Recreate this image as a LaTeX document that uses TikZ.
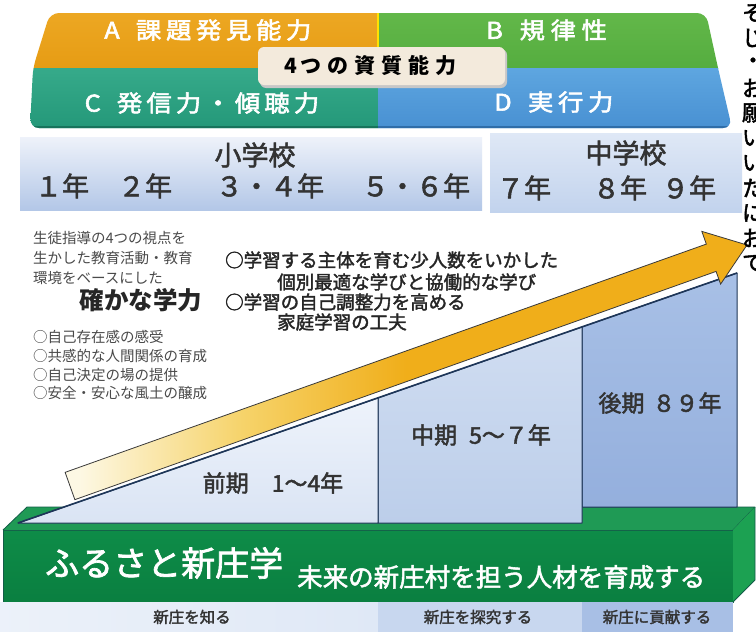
\documentclass[tikz,border=0pt]{standalone}
\usepackage{fontspec}
\setmainfont{Noto Sans CJK JP}
\newfontfamily\widefont[FakeStretch=1.1,FakeBold=2.5]{Noto Sans CJK JP}
\newfontfamily\medfont[FakeBold=2]{Noto Sans CJK JP}
\usetikzlibrary{calc}
\definecolor{orangeT}{HTML}{EEAA26}
\definecolor{orangeB}{HTML}{E69C14}
\definecolor{greenT}{HTML}{66BA4C}
\definecolor{greenB}{HTML}{55AD3F}
\definecolor{tealT}{HTML}{36AA8A}
\definecolor{tealB}{HTML}{249879}
\definecolor{tealE}{HTML}{17745C}
\definecolor{blueT}{HTML}{5EA6E0}
\definecolor{blueB}{HTML}{4890D2}
\definecolor{blueE}{HTML}{2F6DA8}
\definecolor{beige}{HTML}{F3EADC}
\definecolor{schT}{HTML}{EEF2FA}
\definecolor{schB}{HTML}{B3C7E7}
\definecolor{jhsT}{HTML}{DFE8F6}
\definecolor{jhsB}{HTML}{C2D3ED}
\definecolor{txtgray}{HTML}{333333}
\definecolor{txtgray2}{HTML}{4A4A4A}
\definecolor{preT}{HTML}{EEF3FB}
\definecolor{preB}{HTML}{DAE4F4}
\definecolor{midT}{HTML}{D0DDF1}
\definecolor{midB}{HTML}{BCCEEA}
\definecolor{lateT}{HTML}{A8C0E6}
\definecolor{lateB}{HTML}{94AFDD}
\definecolor{blockedge}{HTML}{1E3658}
\definecolor{gFront}{HTML}{0E8C48}
\definecolor{gFrontB}{HTML}{0A7F40}
\definecolor{gTop}{HTML}{1F9A55}
\definecolor{gSide}{HTML}{1CA152}
\definecolor{gEdge}{HTML}{135C48}
\definecolor{st1}{HTML}{DFE8F6}
\definecolor{st2}{HTML}{C8D7EF}
\definecolor{st3}{HTML}{A8BFE5}
\definecolor{arcream}{HTML}{FDF8E4}
\definecolor{armid}{HTML}{F6D36A}
\definecolor{argold}{HTML}{F0AE1A}
\definecolor{arline}{HTML}{3A3A3A}
\pgfdeclarehorizontalshading{arrowshade}{100bp}{color(0bp)=(arcream); color(26bp)=(arcream); color(38bp)=(armid); color(50bp)=(argold); color(100bp)=(argold)}
\makeatletter
\newcommand\spc[2]{\@tfor\spcch:=#2\do{\makebox[#1]{\spcch}}}
\makeatother
\newcommand\setfs[1]{\fontsize{#1pt}{#1pt}\selectfont}
\tikzset{
  bannertxt/.style={text=white, inner sep=0pt, font=\widefont\setfs{23}},
  yeartxt/.style={text=txtgray, inner sep=0pt, font=\medfont\setfs{27}},
  lefttxt/.style={text=txtgray2, inner sep=0pt, anchor=west, font=\setfs{14.5}},
  midtxt/.style={text=black!85, inner sep=0pt, anchor=west, font=\medfont\setfs{18.5}},
  blocktxt/.style={text=txtgray, inner sep=0pt, font=\medfont\setfs{23}},
  striptxt/.style={text=txtgray, inner sep=0pt, font=\medfont\setfs{15.5}},
  blockline/.style={draw=blockedge, line width=1pt, line join=round},
  gline/.style={draw=gEdge, line width=0.8pt, line join=round},
  edgechar/.style={text=black, inner sep=0pt, font=\medfont\setfs{22}},
}
\begin{document}
\begin{tikzpicture}[x=1pt,y=-1pt]
\useasboundingbox (0,0) rectangle (756,632);
\fill[white] (0,0) rectangle (756,632);

% ---------- banner ----------
\begin{scope}
  \clip[rounded corners=9pt] (50,13) -- (706,13) -- (718,68) -- (732,128) -- (30,128) -- (33,68) -- cycle;
  \shade[top color=orangeT, bottom color=orangeB] (0,0) rectangle (378,68);
  \shade[top color=greenT, bottom color=greenB] (378,0) rectangle (756,68);
  \shade[top color=tealT, bottom color=tealB] (0,68) rectangle (378,129);
  \shade[top color=blueT, bottom color=blueB] (378,68) rectangle (756,129);
  \fill[tealE] (0,125.5) rectangle (378,129);
  \fill[blueE] (378,125.5) rectangle (756,129);
  \draw[yellow!85!orange, line width=1.2pt] (378,0) -- (378,68);
\end{scope}
\fill[black!22, rounded corners=6pt] (260,49) rectangle (507,88);
\node[name=qualbox, fill=beige, rounded corners=6pt, minimum width=247pt, minimum height=38pt, inner sep=0pt] at (381.5,66) {};
\node[name=qualtxt, inner sep=0pt, text=black, font=\bfseries\setfs{21}] at (372,66) {4\spc{27pt}{つの資質能力}};
\node[name=labA, bannertxt] at (209,30) {A\hspace{14pt}\spc{30pt}{課題発見能力}};
\node[name=labB, bannertxt] at (548,30) {B\hspace{14pt}\spc{31pt}{規律性}};
\node[name=labC, bannertxt] at (203,103) {C\hspace{14pt}\spc{29.5pt}{発信力・傾聴力}};
\node[name=labD, bannertxt] at (555,102) {D\hspace{14pt}\spc{30pt}{実行力}};

% ---------- school bars ----------
\shade[top color=schT, bottom color=schB] (20,137) rectangle (482,210);
\shade[top color=jhsT, bottom color=jhsB] (490,133) rectangle (742,212);
\node[name=elem, yeartxt] at (255,155) {小学校};
\node[name=y1, yeartxt] at (62,186) {１年};
\node[name=y2, yeartxt] at (145,186) {２年};
\node[name=y34, yeartxt] at (270,186) {３・４年};
\node[name=y56, yeartxt] at (416,186) {５・６年};
\node[name=jhs, yeartxt] at (626,153) {中学校};
\node[name=y7, yeartxt] at (524,188) {７年};
\node[name=y8, yeartxt] at (620,188) {８年};
\node[name=y9, yeartxt] at (689,188) {９年};

% ---------- left text ----------
\node[name=l1, lefttxt] at (33,238) {生徒指導の4つの視点を};
\node[name=l2, lefttxt] at (33,258) {生かした教育活動・教育};
\node[name=l3, lefttxt] at (33,278) {環境をベースにした};
\node[name=l4, inner sep=0pt, text=black!85, font=\bfseries\setfs{24.5}] at (141,300) {確かな学力};
\node[name=l5, lefttxt] at (33,337) {○自己存在感の感受};
\node[name=l6, lefttxt] at (33,356) {○共感的な人間関係の育成};
\node[name=l7, lefttxt] at (33,375) {○自己決定の場の提供};
\node[name=l8, lefttxt] at (33,393) {○安全・安心な風土の醸成};

% ---------- middle text ----------
\node[name=m1, midtxt] at (225,260) {○学習する主体を育む少人数をいかした};
\node[name=m2, midtxt] at (277,282) {個別最適な学びと協働的な学び};
\node[name=m3, midtxt] at (225,302) {○学習の自己調整力を高める};
\node[name=m4, midtxt] at (277,322) {家庭学習の工夫};

% ---------- green base box ----------
\shade[top color=gFront, bottom color=gFrontB, gline] (3,530) rectangle (733,602);
\fill[gTop] (3,530) -- (27,507) -- (755,507) -- (733,530) -- cycle;
\draw[gline] (3,530) -- (27,507) -- (755,507) -- (733,530);
\fill[gSide] (733,530) -- (755,507) -- (755,580) -- (733,602) -- cycle;
\draw[gline] (755,507) -- (755,580) -- (733,602);
\node[name=furu, inner sep=0pt, text=white, anchor=west, font=\medfont\setfs{34}] at (45,563) {ふるさと新庄学};
\node[name=mirai, inner sep=0pt, text=white, anchor=west, font=\medfont\setfs{25.5}] at (297,577) {未来の新庄村を担う人材を育成する};

% ---------- staircase ----------
\coordinate (sA) at (18,523);
\coordinate (s1) at (378,398);
\coordinate (s2) at (582,327);
\coordinate (sT) at (737,273);
\shade[top color=lateT, bottom color=lateB, blockline] (s2) -- (sT) -- (737,507) -- (582,507) -- cycle;
\shade[top color=midT, bottom color=midB, blockline] (s1) -- (s2) -- (582,523) -- (378,523) -- cycle;
\shade[top color=preT, bottom color=preB, blockline] (sA) -- (s1) -- (378,523) -- cycle;
\draw[blockedge, line width=1.6pt] (sA) -- (sT);
\node[name=zenki, blocktxt] at (273,483) {前期　1～4年};
\node[name=chuki, blocktxt] at (481,435) {中期\hspace{12pt}5～７年};
\node[name=koki, blocktxt] at (660,403) {後期\hspace{8pt}８９年};

% ---------- bottom strip ----------
\shade[left color=st1!60!white, right color=st1] (0,602) rectangle (378,632);
\fill[st2] (378,602) rectangle (582,632);
\fill[st3] (582,602) rectangle (733,632);
\node[name=b1, striptxt] at (192,617) {新庄を知る};
\node[name=b2, striptxt] at (478,617) {新庄を探究する};
\node[name=b3, striptxt] at (657,617) {新庄に貢献する};

% ---------- arrow ----------
\coordinate (arT) at (70,486);
\coordinate (arP) at (747,245);
\coordinate (arH) at ($(arP)!38pt!(arT)$);
\shade[shading=arrowshade, draw=arline, line width=0.8pt, line join=miter]
  ($(arT)!14.5pt!90:(arP)$) -- ($(arH)!14.5pt!90:(arP)$) -- ($(arH)!28pt!90:(arP)$)
  -- (arP) -- ($(arH)!28pt!-90:(arP)$) -- ($(arH)!14.5pt!-90:(arP)$)
  -- ($(arT)!14.5pt!-90:(arP)$) -- cycle;

% ---------- cut-off text column at the right edge ----------
\begin{scope}
  \clip (740,0) rectangle (756,300);
  \node[name=e1, edgechar] at (753,13) {そ};
  \node[name=e2, edgechar] at (753,38) {じ};
  \node[name=e3, edgechar] at (753,63) {・};
  \node[name=e4, edgechar] at (753,88) {お};
  \node[name=e5, edgechar] at (753,113) {願};
  \node[name=e6, edgechar] at (753,138) {い};
  \node[name=e7, edgechar] at (753,163) {い};
  \node[name=e8, edgechar] at (753,188) {た};
  \node[name=e9, edgechar] at (753,213) {に};
  \node[name=e10, edgechar] at (753,238) {お};
  \node[name=e11, edgechar] at (753,263) {て};
\end{scope}
\end{tikzpicture}
\end{document}
